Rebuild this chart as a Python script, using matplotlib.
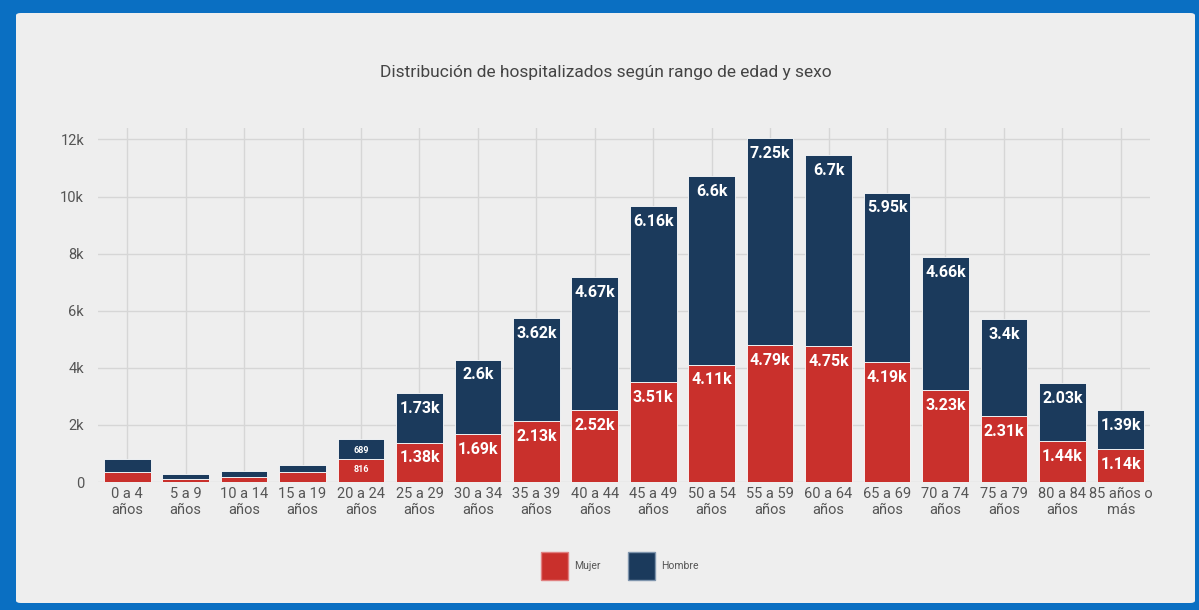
import matplotlib.pyplot as plt
from matplotlib.patches import FancyBboxPatch, Patch

plt.rcParams['font.family'] = ['Roboto', 'DejaVu Sans']

# Data
grupos = ['0 a 4\naños', '5 a 9\naños', '10 a 14\naños', '15 a 19\naños', '20 a 24\naños',
          '25 a 29\naños', '30 a 34\naños', '35 a 39\naños', '40 a 44\naños', '45 a 49\naños',
          '50 a 54\naños', '55 a 59\naños', '60 a 64\naños', '65 a 69\naños', '70 a 74\naños',
          '75 a 79\naños', '80 a 84\naños', '85 años o\nmás']
mujer = [340, 95, 165, 340, 816, 1380, 1690, 2130, 2520, 3510, 4110, 4790, 4750, 4190,
         3230, 2310, 1440, 1140]
hombre = [455, 175, 220, 265, 689, 1730, 2600, 3620, 4670, 6160, 6600, 7250, 6700, 5950,
          4660, 3400, 2030, 1390]

red = '#C9302C'
navy = '#1B3A5C'
bg = '#EEEEEE'


def fmt(v):
    if v >= 1000:
        return f'{v / 1000:.3g}k'
    return str(v)


fig = plt.figure(figsize=(11.99, 6.10), dpi=100)
fig.patch.set_facecolor('#0A6FC2')
# light gray panel inside the blue frame
fig.patches.append(FancyBboxPatch((16 / 1199, 7 / 610), 1179 / 1199, 590 / 610,
                                  boxstyle='round,pad=0,rounding_size=0.004',
                                  transform=fig.transFigure, facecolor=bg,
                                  edgecolor='none', zorder=-5))

ax = fig.add_axes([98 / 1199, 128 / 610, 1052 / 1199, (482 - 128) / 610])
ax.set_facecolor(bg)
x = range(len(grupos))
ax.bar(x, mujer, width=0.8, color=red, edgecolor='white', linewidth=0.6, zorder=3)
ax.bar(x, hombre, width=0.8, bottom=mujer, color=navy, edgecolor='white', linewidth=0.6, zorder=3)

# value labels (only where a segment is big enough)
for i, (m, h) in enumerate(zip(mujer, hombre)):
    if m < 500:
        continue
    size = 6.5 if m < 1000 else 11.5
    off = -8 if m < 1000 else -11
    ax.annotate(fmt(m), (i, m), xytext=(0, off), textcoords='offset points',
                ha='center', va='center', color='white', fontsize=size,
                fontweight='bold', zorder=4)
    ax.annotate(fmt(h), (i, m + h), xytext=(0, off), textcoords='offset points',
                ha='center', va='center', color='white', fontsize=size,
                fontweight='bold', zorder=4)

ax.set_xlim(-0.5, len(grupos) - 0.5)
ax.set_ylim(0, 12400)
ax.set_yticks([0, 2000, 4000, 6000, 8000, 10000, 12000])
ax.set_yticklabels(['0', '2k', '4k', '6k', '8k', '10k', '12k'])
ax.set_xticks(list(x))
ax.set_xticklabels(grupos, linespacing=1.2)
ax.tick_params(axis='both', length=0, colors='#555555', labelsize=10.5)
ax.tick_params(axis='y', pad=10)
ax.grid(True, color='#D6D6D6', linewidth=1, zorder=0)
for s in ax.spines.values():
    s.set_visible(False)

fig.text(0.505, 1 - 73 / 610, 'Distribución de hospitalizados según rango de edad y sexo',
         ha='center', va='center', fontsize=12.5, color='#444444')

handles = [Patch(facecolor=red, edgecolor='#e08080'), Patch(facecolor=navy, edgecolor='#7f95ad')]
fig.legend(handles, ['Mujer', 'Hombre'], loc='center', bbox_to_anchor=(620 / 1199, 1 - 566 / 610),
           ncol=2, frameon=False, fontsize=7.5, labelcolor='#555555', handlelength=2.6,
           handleheight=3.7, columnspacing=2.6, handletextpad=0.6)

fig.savefig('out.png', dpi=100, facecolor=fig.get_facecolor())
